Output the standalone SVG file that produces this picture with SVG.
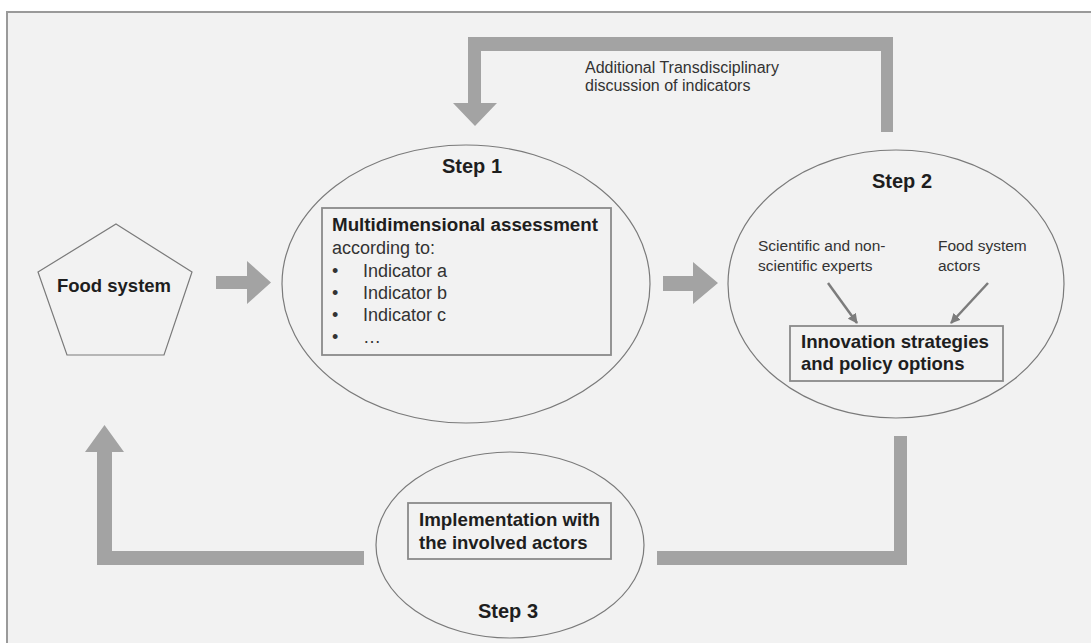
<svg xmlns="http://www.w3.org/2000/svg" width="1091" height="643" viewBox="0 0 1091 643">
  <defs>
    <style>
      .bigarrow { fill: #a3a3a3; stroke: none; }
      .ell { fill: none; stroke: #7a7a7a; stroke-width: 1.2; }
      .box { fill: none; stroke: #8a8a8a; stroke-width: 1.8; }
      .bold { font-family: "Liberation Sans", Arial, sans-serif; font-weight: bold; fill: #1e1e1e; }
      .reg { font-family: "Liberation Sans", Arial, sans-serif; fill: #333333; }
      .thin { stroke: #7c7c7c; stroke-width: 2.5; fill: none; }
    </style>
    <marker id="ah" viewBox="0 0 10 10" refX="9" refY="5" markerWidth="4" markerHeight="4" orient="auto" markerUnits="strokeWidth">
      <path d="M0,0 L10,5 L0,10 Z" fill="#7c7c7c"/>
    </marker>
  </defs>
  <rect x="0" y="0" width="1091" height="643" fill="#ffffff"/>
  <rect x="7" y="12" width="1090" height="640" fill="#f2f2f2" stroke="#9a9a9a" stroke-width="2"/>

  <g id="connectors">
    <polygon class="bigarrow" points="893,132 893,37 468,37 468,103 453,103 475,126 497,103 481,103 481,51 881,51 881,132"/>
    <polygon class="bigarrow" points="216,276 247,276 247,261 271,282.5 247,304 247,289 216,289"/>
    <polygon class="bigarrow" points="663,276 693,276 693,262 718,283 693,304 693,291 663,291"/>
    <polygon class="bigarrow" points="894,436 907,436 907,565 657,565 657,551 894,551"/>
    <polygon class="bigarrow" points="364,551 364,565 97,565 97,452 85,452 104.5,425 124,452 112,452 112,551"/>
    <text class="reg" x="585" y="73" font-size="16" fill="#444">Additional Transdisciplinary</text>
    <text class="reg" x="585" y="91" font-size="16" fill="#444">discussion of indicators</text>
  </g>

  <g id="food-system">
    <polygon points="116,224 192,272 164,355 67,355 38,272" fill="none" stroke="#7a7a7a" stroke-width="1.2"/>
    <text class="bold" x="114" y="292" font-size="18.5" text-anchor="middle">Food system</text>
  </g>

  <g id="step1">
    <ellipse class="ell" cx="466" cy="284" rx="184" ry="139"/>
    <text class="bold" x="472" y="173" font-size="20" text-anchor="middle">Step 1</text>
    <rect class="box" x="322" y="208" width="289" height="147"/>
    <text class="bold" x="332" y="231" font-size="18" textLength="266" lengthAdjust="spacingAndGlyphs">Multidimensional assessment</text>
    <text class="reg" x="332" y="254" font-size="18">according to:</text>
    <text class="reg" x="332" y="277" font-size="18">•</text>
    <text class="reg" x="363" y="277" font-size="18">Indicator a</text>
    <text class="reg" x="332" y="299" font-size="18">•</text>
    <text class="reg" x="363" y="299" font-size="18">Indicator b</text>
    <text class="reg" x="332" y="321" font-size="18">•</text>
    <text class="reg" x="363" y="321" font-size="18">Indicator c</text>
    <text class="reg" x="332" y="343" font-size="18">•</text>
    <text class="reg" x="363" y="343" font-size="18">…</text>
  </g>

  <g id="step2">
    <ellipse class="ell" cx="896" cy="284" rx="168" ry="134"/>
    <text class="bold" x="902" y="188" font-size="20" text-anchor="middle">Step 2</text>
    <text class="reg" x="758" y="251" font-size="15.5">Scientific and non-</text>
    <text class="reg" x="758" y="271" font-size="15.5">scientific experts</text>
    <text class="reg" x="938" y="251" font-size="15.5">Food system</text>
    <text class="reg" x="938" y="271" font-size="15.5">actors</text>
    <line class="thin" x1="828" y1="283" x2="857" y2="323" marker-end="url(#ah)"/>
    <line class="thin" x1="988" y1="283" x2="951" y2="323" marker-end="url(#ah)"/>
    <rect class="box" x="790" y="326" width="213" height="55"/>
    <text class="bold" x="801" y="348" font-size="18.5" textLength="188" lengthAdjust="spacingAndGlyphs">Innovation strategies</text>
    <text class="bold" x="801" y="370" font-size="18.5">and policy options</text>
  </g>

  <g id="step3">
    <ellipse class="ell" cx="510" cy="545" rx="134" ry="93"/>
    <rect class="box" x="408" y="503" width="203" height="56"/>
    <text class="bold" x="419" y="526" font-size="18.5" textLength="181" lengthAdjust="spacingAndGlyphs">Implementation with</text>
    <text class="bold" x="419" y="549" font-size="18.5">the involved actors</text>
    <text class="bold" x="508" y="618" font-size="20" text-anchor="middle">Step 3</text>
  </g>
</svg>
